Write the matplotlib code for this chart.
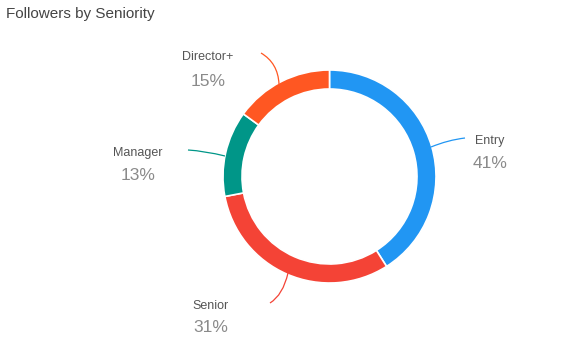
import matplotlib
matplotlib.use("Agg")
import matplotlib.pyplot as plt
from matplotlib.path import Path
from matplotlib.patches import PathPatch
import numpy as np

categories = ["Entry", "Senior", "Manager", "Director+"]
values = [41, 31, 13, 15]
pct_labels = ["41%", "31%", "13%", "15%"]
colors = ["#2196F3", "#F44336", "#009688", "#FF5722"]

W, H = 579, 354
fig = plt.figure(figsize=(W / 100, H / 100), dpi=100)
ax = fig.add_axes([0, 0, 1, 1])

def Y(y):
    return H - y

cx, cy, R, width = 329.5, 176.5, 106.5, 19

wedges, _ = ax.pie(values, colors=colors, startangle=90, counterclock=False,
                   radius=R, center=(cx, Y(cy)),
                   wedgeprops=dict(width=width, edgecolor="white", linewidth=1.2))

ax.set_xlim(0, W)
ax.set_ylim(0, H)
ax.set_aspect("equal")
ax.axis("off")

# label positions (pixel coords) and connector curves
label_pos = {
    "Entry": (490, 141, 164),
    "Senior": (211, 306, 328),
    "Manager": (138, 153, 175),
    "Director+": (208, 57, 82),
}
connectors = {
    "Entry": [(431, 147), (448, 140), (465, 138)],
    "Senior": [(288, 273), (283, 295), (270, 303)],
    "Manager": [(225, 156), (205, 151), (188, 150)],
    "Director+": [(279, 84), (278, 63), (261, 53)],
}

font = "Liberation Sans"
for cat, pct, col in zip(categories, pct_labels, colors):
    x, yl, yp = label_pos[cat]
    ax.text(x, Y(yl), cat, ha="center", va="center", fontsize=9,
            color="#555555", family=font)
    ax.text(x, Y(yp), pct, ha="center", va="center", fontsize=12.5,
            color="#8a8a8a", family=font)
    pts = connectors[cat]
    verts = [(px, Y(py)) for px, py in pts]
    path = Path(verts, [Path.MOVETO, Path.CURVE3, Path.CURVE3])
    ax.add_patch(PathPatch(path, facecolor="none", edgecolor=col, lw=0.9))

fig.text(6 / W, 1 - 14 / H, "Followers by Seniority", ha="left", va="center",
         fontsize=11, color="#444444", family=font)

fig.savefig("out.png", dpi=100, facecolor="white")
